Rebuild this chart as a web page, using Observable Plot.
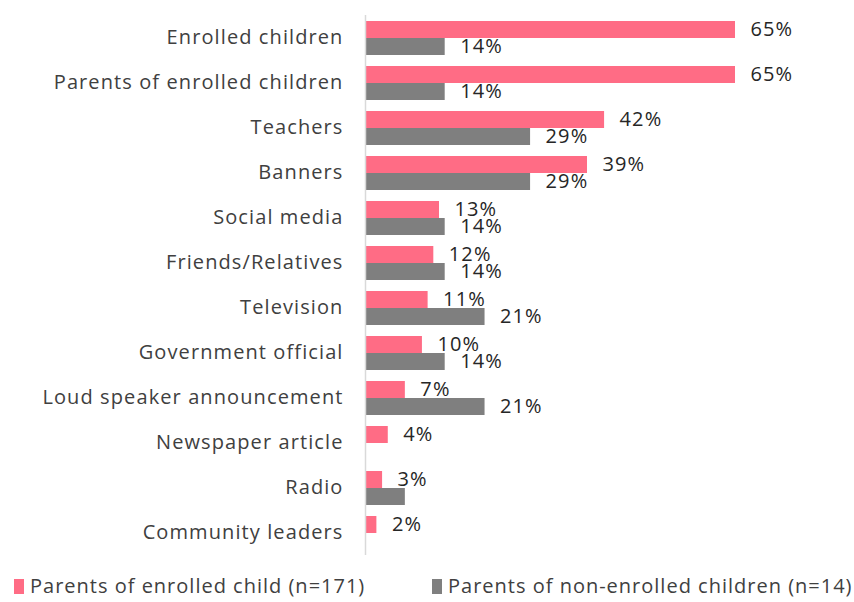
<!DOCTYPE html>
<html>
<head>
<meta charset="utf-8">
<script src="https://cdn.jsdelivr.net/npm/d3@7"></script>
<script src="https://cdn.jsdelivr.net/npm/@observablehq/plot@0.6"></script>
<style>
  body { margin: 0; background: #fff; font-family: "Open Sans", sans-serif; overflow: hidden; }
  #chart { width: 854px; }
  .legend { position: relative; font-size: 20px; line-height: 20px; color: #404040; height: 30px; letter-spacing: 1.0px; }
  .legend .item { position: absolute; top: 6px; display: flex; align-items: center; white-space: nowrap; }
  .legend .sw { width: 10px; height: 15px; margin-right: 6px; }
</style>
</head>
<body>
<div id="chart"></div>
<script>
const categories = ["Enrolled children", "Parents of enrolled children", "Teachers", "Banners", "Social media", "Friends/Relatives", "Television", "Government official", "Loud speaker announcement", "Newspaper article", "Radio", "Community leaders"];
const enrolled = [65, 65, 42, 39, 13, 12, 11, 10, 7, 4, 3, 2];
const nonEnrolled = [14, 14, 29, 29, 14, 14, 21, 14, 21, 0, 7, 0];
const nonEnrolledLabelShown = [true, true, true, true, true, true, true, true, true, false, false, false];
const seriesNames = ["Parents of enrolled child (n=171)", "Parents of non-enrolled children (n=14)"];
const colors = ["#FF6C85", "#7F7F7F"];
const legendX = [14, 432];

const data = [];
categories.forEach((c, i) => {
  data.push({category: c, series: seriesNames[0], value: enrolled[i], show: true});
  data.push({category: c, series: seriesNames[1], value: nonEnrolled[i], show: nonEnrolledLabelShown[i]});
});

const chart = Plot.plot({
  width: 854,
  height: 570,
  marginLeft: 365,
  marginRight: 119,
  marginTop: 13,
  marginBottom: 13,
  style: {fontSize: "20px", fontFamily: "'Open Sans', sans-serif", color: "#404040", letterSpacing: "1.1px"},
  x: {domain: [0, 65], axis: null},
  fy: {domain: categories, padding: 0, axis: "left", tickSize: 0, tickPadding: 22, label: null},
  y: {domain: seriesNames, axis: null, paddingInner: 0, paddingOuter: 0.3},
  color: {domain: seriesNames, range: colors},
  marks: [
    Plot.barX(data, {fy: "category", y: "series", x: "value", fill: "series"}),
    Plot.ruleX([0], {stroke: "#d9d9d9", strokeWidth: 1.5}),
    Plot.text(data.filter(d => d.show && d.value > 0), {
      fy: "category", y: "series", x: "value", text: d => d.value + "%",
      textAnchor: "start", dx: 15, fill: "#262626"
    })
  ]
});
document.getElementById("chart").appendChild(chart);

const legend = document.createElement("div");
legend.className = "legend";
seriesNames.forEach((s, i) => {
  const item = document.createElement("div");
  item.className = "item";
  item.style.left = legendX[i] + "px";
  const sw = document.createElement("span");
  sw.className = "sw";
  sw.style.background = colors[i];
  const t = document.createElement("span");
  t.textContent = s;
  item.appendChild(sw);
  item.appendChild(t);
  legend.appendChild(item);
});
document.getElementById("chart").appendChild(legend);
</script>
</body>
</html>
